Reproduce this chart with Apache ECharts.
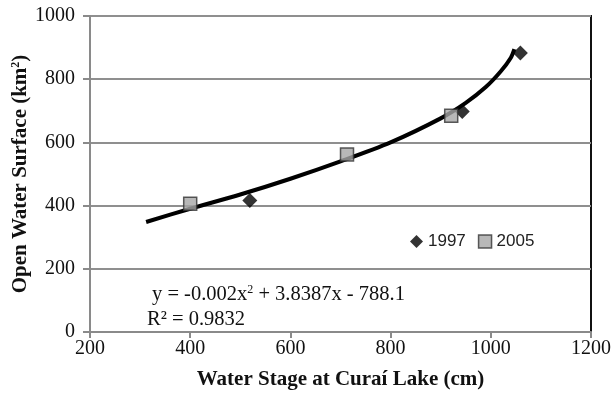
<!DOCTYPE html>
<html>
<head>
<meta charset="utf-8">
<script src="https://cdn.jsdelivr.net/npm/echarts@6/dist/echarts.min.js"></script>
<style>
html,body{margin:0;padding:0;background:#fff;}
#main{width:614px;height:397px;}
</style>
</head>
<body>
<div id="main"></div>
<script>
// points
var pts1997 = [[519, 416], [943, 698], [1059, 883]];
var pts2005 = [[400, 406], [713, 562], [921, 684]];
// trend line
var trendPts = [[312, 348], [400, 390], [500, 435], [600, 485], [700, 540], [800, 600], [900, 676], [950, 725], [990, 775], [1020, 825], [1040, 868], [1047, 895]];
var xTicks = [200, 400, 600, 800, 1000, 1200];
var yTicks = [0, 200, 400, 600, 800, 1000];

var serif = '"Liberation Serif", "DejaVu Serif", serif';
var chart = echarts.init(document.getElementById('main'));

var option = {
	animation: false,
	backgroundColor: '#fff',
	grid: {
		left: 90, right: 23, top: 16, bottom: 65,
		outerBoundsMode: 'none',
		containLabel: false,
		show: true,
		borderColor: '#111',
		borderWidth: 2
	},
	legend: {
		left: 405,
		top: 228,
		itemWidth: 13,
		itemHeight: 13,
		itemGap: 12,
		textStyle: { fontFamily: '"Liberation Sans", Arial, sans-serif', fontSize: 17, color: '#222' },
		data: [
			{ name: '1997', icon: 'diamond' },
			{ name: '2005', icon: 'rect', itemStyle: { color: '#a6a6a6', borderColor: '#333', borderWidth: 1.5 } }
		]
	},
	xAxis: {
		type: 'value',
		min: xTicks[0],
		max: xTicks[xTicks.length - 1],
		interval: 200,
		name: 'Water Stage at Curaí Lake (cm)',
		nameLocation: 'middle',
		nameGap: 37,
		nameTextStyle: { fontFamily: serif, fontWeight: 'bold', fontSize: 21, color: '#111' },
		axisLine: { lineStyle: { color: '#8a8a8a', width: 2 } },
		axisTick: { show: true, length: 6, inside: false, lineStyle: { color: '#8a8a8a', width: 2 } },
		axisLabel: { fontFamily: serif, fontSize: 20, color: '#111', margin: 7, formatter: function (v) { return String(v); } },
		splitLine: { show: false }
	},
	yAxis: {
		type: 'value',
		min: yTicks[0],
		max: yTicks[yTicks.length - 1],
		interval: 200,
		name: 'Open Water Surface (km{sup|2})',
		nameLocation: 'middle',
		nameGap: 59,
		nameMoveOverlap: false,
		nameTextStyle: {
			fontFamily: serif, fontWeight: 'bold', fontSize: 21, color: '#111',
			rich: { sup: { fontFamily: serif, fontWeight: 'bold', fontSize: 12, verticalAlign: 'top', padding: [0, 0, 9, 0] } }
		},
		axisLine: { show: true, lineStyle: { color: '#8a8a8a', width: 2 } },
		axisTick: { show: true, length: 7, lineStyle: { color: '#8a8a8a', width: 2 } },
		axisLabel: { fontFamily: serif, fontSize: 20, color: '#111', margin: 15, formatter: function (v) { return String(v); } },
		splitLine: { show: true, lineStyle: { color: '#8f8f8f', width: 2 } }
	},
	series: [
		{
			name: 'trend',
			type: 'line',
			data: trendPts,
			smooth: 0.3,
			showSymbol: false,
			symbol: 'none',
			lineStyle: { color: '#000', width: 4 },
			z: 2
		},
		{
			name: '1997',
			type: 'scatter',
			data: pts1997,
			symbol: 'diamond',
			symbolSize: 15,
			itemStyle: { color: '#000' },
			z: 3
		},
		{
			name: '2005',
			type: 'scatter',
			data: pts2005,
			symbol: 'rect',
			symbolSize: 13,
			itemStyle: { color: '#a6a6a6', borderColor: '#333', borderWidth: 1.5 },
			z: 3
		}
	],
	graphic: [
		{
			type: 'text',
			left: 152,
			top: 284,
			style: {
				text: 'y = -0.002x{sup|2} + 3.8387x - 788.1',
				font: '20.5px ' + serif,
				fill: '#111',
				rich: { sup: { font: '12px ' + serif, fill: '#111', verticalAlign: 'top', padding: [0, 0, 8, 0] } }
			}
		},
		{
			type: 'text',
			left: 147,
			top: 309,
			style: { text: 'R² = 0.9832', font: '20.5px ' + serif, fill: '#111' }
		}
	]
};

chart.setOption(option);
</script>
</body>
</html>
